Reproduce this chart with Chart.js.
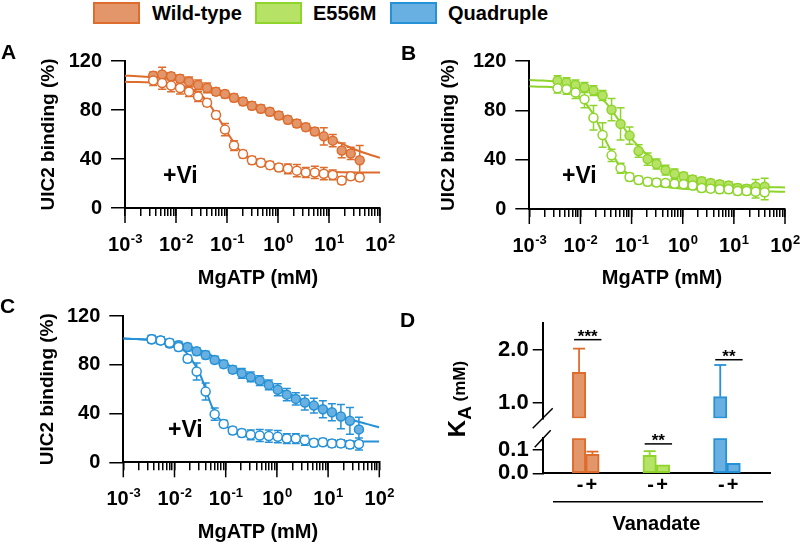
<!DOCTYPE html>
<html>
<head>
<meta charset="utf-8">
<title>UIC2 binding vs MgATP</title>
<script src="https://cdn.jsdelivr.net/npm/chart.js@4.4.1/dist/chart.umd.min.js"></script>
<style>
  html, body { margin: 0; padding: 0; background: #fff; }
  #fig { position: relative; width: 800px; height: 547px; overflow: hidden; background: #fff;
         font-family: "Liberation Sans", Arial, Helvetica, sans-serif; font-weight: bold; color: #000; }
  #fig canvas { position: absolute; }
  .txt { position: absolute; white-space: nowrap; line-height: 1; }
  .ctr { transform: translate(-50%, -50%); }
  .swatch { position: absolute; box-sizing: border-box; border: 2px solid; width: 47px; height: 22px; top: 2px; }
</style>
</head>
<body>
<div id="fig">
  <div class="swatch" id="sw0" style="left:93px"></div>
  <div class="txt" style="left:152px;top:3px;font-size:20px">Wild-type</div>
  <div class="swatch" id="sw1" style="left:255px"></div>
  <div class="txt" style="left:313px;top:3px;font-size:20px">E556M</div>
  <div class="swatch" id="sw2" style="left:390px"></div>
  <div class="txt" style="left:448px;top:3px;font-size:20px">Quadruple</div>

  <canvas id="cA" width="400" height="255" style="left:0;top:40px"></canvas>
  <canvas id="cB" width="400" height="255" style="left:400px;top:40px"></canvas>
  <canvas id="cC" width="400" height="252" style="left:0;top:295px"></canvas>
  <canvas id="cD" width="400" height="247" style="left:400px;top:300px"></canvas>

  <div class="txt" style="left:1px;top:41px;font-size:21px">A</div>
  <div class="txt" style="left:401px;top:42px;font-size:21px">B</div>
  <div class="txt" style="left:0px;top:295px;font-size:21px">C</div>
  <div class="txt" style="left:400px;top:309px;font-size:21px">D</div>

  <div class="txt" style="left:163px;top:164px;font-size:23px">+Vi</div>
  <div class="txt" style="left:562px;top:164px;font-size:23px">+Vi</div>
  <div class="txt" style="left:168px;top:418px;font-size:23px">+Vi</div>

  <div class="txt ctr" style="left:258px;top:277px;font-size:20px">MgATP (mM)</div>
  <div class="txt ctr" style="left:662px;top:277px;font-size:20px">MgATP (mM)</div>
  <div class="txt ctr" style="left:258px;top:531px;font-size:20px">MgATP (mM)</div>

  <div class="txt" style="left:457px;top:399px;transform:translate(-50%,-50%) rotate(-90deg)"><span style="font-size:24px">K</span><span style="font-size:19px;position:relative;top:6px">A</span><span style="font-size:17px"> (mM)</span></div>
</div>

<script>
// ---------------- data ----------------
const seriesNames = ['Wild-type', 'E556M', 'Quadruple'];
const lineColors = ['rgb(222,108,45)', 'rgb(142,212,42)', 'rgb(38,145,214)'];
const fillColors = ['rgb(226,150,106)', 'rgb(182,226,102)', 'rgb(104,176,226)'];

// MgATP concentrations (mM) of the titration points
const concentrations = [0.00357, 0.00535, 0.00802, 0.0120, 0.0180, 0.0271, 0.0406, 0.0609, 0.0913, 0.137, 0.206, 0.308,
                        0.462, 0.694, 1.04, 1.56, 2.34, 3.51, 5.27, 7.90, 11.85, 17.78, 26.67, 40];
// x positions where the fitted curves were read
const fitX = [0.001, 0.00178, 0.00316, 0.00562, 0.01, 0.0178, 0.0316, 0.0562, 0.1, 0.178, 0.316, 0.562,
              1, 1.78, 3.16, 5.62, 10, 17.8, 31.6, 56.2, 100];
const xTickExponents = [-3, -2, -1, 0, 1, 2];
const bindingTicks = [0, 40, 80, 120];

// Panel A: wild-type
const wtNoVi    = [108, 109, 107.5, 105.5, 103, 100.5, 98, 95, 93, 90, 87, 83.5, 81, 78.5, 75.5, 72, 69, 66, 62.5, 58.5, 55, 47, 44.5, 39];
const wtNoViErr = [3, 6, 3, 3, 4, 4, 4, 3, 3, 3, 3, 3, 3, 3, 3, 3, 3, 3, 3, 7, 5, 6, 5, 12];
const wtVi      = [104, 102, 100, 98, 95, 91, 86, 76, 64, 51, 44, 39, 37, 35, 33, 32, 30.5, 29, 29, 28, 27, 22.5, 26, 25];
const wtViErr   = [4, 5, 5, 5, 4, 4, 3, 3, 5, 4, 3, 3, 3, 3, 3, 4, 5, 4, 5, 5, 4, 3, 3, 3];
const wtNoViFit = [108, 107.6, 107, 106, 104.5, 102.5, 100, 96.8, 93, 89, 85, 80.5, 76, 71.5, 67, 62, 57, 52.5, 48, 44.3, 41];
const wtViFit   = [103, 102.8, 102.5, 102, 100.8, 98, 92, 79, 62, 47, 39.5, 35.5, 33, 31.5, 30.5, 30, 29.5, 29.2, 29, 29, 29];

// Panel B: E556M
const e556NoVi    = [104, 102.5, 100.5, 98.5, 96, 92, 80.5, 69, 59.5, 47, 40.5, 36.5, 31.5, 28.5, 26.5, 24, 22.5, 21, 20, 19, 17, 16.5, 18, 18];
const e556NoViErr = [4, 4, 4, 4, 4, 4, 9, 13, 7, 5, 5, 4, 4, 4, 3, 3, 3, 3, 3, 3, 3, 3, 6, 7];
const e556Vi      = [98, 97, 94.5, 89, 74, 60, 43.5, 33, 26, 23.5, 22, 21.5, 21, 20.5, 20, 19, 17, 16.5, 16, 16, 14.5, 14.5, 14, 13.5];
const e556ViErr   = [4, 4, 5, 7, 10, 10, 5, 4, 3, 3, 3, 3, 3, 3, 3, 3, 3, 3, 3, 3, 3, 3, 5, 6];
const e556NoViFit = [104.5, 104.2, 103.5, 102, 99.5, 95, 86, 72, 57, 46, 37, 30.5, 26, 23.3, 21.5, 20, 19, 18.4, 18, 17.7, 17.5];
const e556ViFit   = [99.5, 99.2, 98.5, 96, 90, 77, 55, 36, 26, 21.5, 19, 17.5, 16.5, 15.8, 15.2, 14.8, 14.5, 14.3, 14.2, 14.1, 14];

// Panel C: Quadruple
const quadNoVi    = [101, 100, 97.5, 96, 94.5, 91, 88, 84, 80.5, 76, 73, 70, 67, 63.5, 59.5, 55.5, 52, 49, 46.5, 43.5, 41, 37.5, 34, 27];
const quadNoViErr = [3, 3, 3, 3, 3, 3, 3, 3, 3, 3, 4, 4, 4, 4, 5, 5, 5, 6, 6, 7, 7, 10, 11, 10];
const quadVi      = [101, 100, 98, 94.5, 85, 74.5, 58, 39.5, 31.5, 26, 24, 22.5, 22, 21.5, 21, 19.5, 19.5, 18, 16, 16.5, 15.5, 15.5, 14.5, 15];
const quadViErr   = [3, 3, 3, 3, 3, 7, 7, 5, 3, 3, 3, 4, 5, 5, 5, 4, 4, 4, 3, 3, 3, 3, 3, 5];
const quadNoViFit = [101.5, 101.2, 100.5, 99.5, 98, 95.5, 92, 87, 81, 76, 71, 66, 61, 56, 51, 46.5, 42, 38, 34.5, 31.5, 28.7];
const quadViFit   = [101.5, 101.2, 100.5, 99.3, 97, 89, 72, 44, 30, 25, 22.5, 21, 20, 19.2, 18.5, 18, 17.5, 17.3, 17.1, 17, 17];

// Panel D: K_A (mM), without (-) and with (+) vanadate
const kaGroupPositions = [0, 1, 2];
const kaMinusVi    = [1.57, 0.077, 1.11];
const kaMinusViErr = [0.45, 0.018, 0.60];
const kaPlusVi     = [0.081, 0.036, 0.043];
const kaPlusViErr  = [0.012, 0, 0];
const vanadateLabels = ['-', '+'];
const sigMarks  = ['***', '**', '**'];
const sigLevels = [2.19, 0.126, 1.81];
const kaLowTicks  = [0.0, 0.1];
const kaHighTicks = [1.0, 2.0];
const LOW_MAX = 0.15, HIGH_MIN = 0.7, HIGH_MAX = 2.5;

// ---------------- helpers ----------------
const FONT = '"Liberation Sans", Arial, Helvetica, sans-serif';
Chart.defaults.font.family = FONT;
seriesNames.forEach((n, i) => {
  const sw = document.getElementById('sw' + i);
  sw.style.background = fillColors[i];
  sw.style.borderColor = lineColors[i];
});

const errorBarPlugin = {
  id: 'errorBars',
  beforeDatasetsDraw(chart) {
    const ctx = chart.ctx;
    chart.data.datasets.forEach((ds, di) => {
      if (!ds.errors) return;
      const meta = chart.getDatasetMeta(di);
      const ys = chart.scales[meta.yAxisID];
      ctx.save();
      ctx.strokeStyle = ds.errorColor;
      ctx.lineWidth = 1.5;
      meta.data.forEach((pt, i) => {
        const e = ds.errors[i];
        if (!e) return;
        const v = ds.data[i].y;
        const x = pt.x, yT = ys.getPixelForValue(v + e), yB = ys.getPixelForValue(v - e);
        ctx.beginPath();
        ctx.moveTo(x, yT); ctx.lineTo(x, yB);
        ctx.moveTo(x - 4, yT); ctx.lineTo(x + 4, yT);
        ctx.moveTo(x - 4, yB); ctx.lineTo(x + 4, yB);
        ctx.stroke();
      });
      ctx.restore();
    });
  }
};

const logAxisPlugin = {
  id: 'logAxis',
  afterDraw(chart) {
    const xs = chart.scales.x;
    const ctx = chart.ctx;
    ctx.save();
    ctx.strokeStyle = '#000';
    ctx.fillStyle = '#000';
    ctx.lineWidth = 1.5;
    ctx.textAlign = 'left';
    ctx.textBaseline = 'alphabetic';
    xTickExponents.forEach(e => {
      const px = xs.getPixelForValue(Math.pow(10, e));
      ctx.beginPath();
      ctx.moveTo(px, xs.top); ctx.lineTo(px, xs.top + 15);
      ctx.stroke();
      const base = '10', ex = String(e);
      ctx.font = 'bold 20px ' + FONT;
      const wb = ctx.measureText(base).width;
      ctx.font = 'bold 13px ' + FONT;
      const we = ctx.measureText(ex).width;
      const left = px - (wb + we) / 2;
      const baseY = xs.top + 43;
      ctx.font = 'bold 20px ' + FONT;
      ctx.fillText(base, left, baseY);
      ctx.font = 'bold 13px ' + FONT;
      ctx.fillText(ex, left + wb + 0.5, baseY - 8);
    });
    ctx.restore();
  }
};

function minorLogTicks() {
  const out = [];
  xTickExponents.forEach(e => {
    for (let m = 1; m <= 9; m++) {
      const v = m * Math.pow(10, e);
      if (v <= 100.0001) out.push({value: v});
    }
  });
  return out;
}

function curvePanel(id, s, noVi, noViErr, vi, viErr, noViFit, viFit, g) {
  const color = lineColors[s], fill = fillColors[s];
  const pts = ys => concentrations.map((x, i) => ({x: x, y: ys[i]}));
  const fit = ys => fitX.map((x, i) => ({x: x, y: ys[i]}));
  return new Chart(document.getElementById(id), {
    type: 'line',
    data: {
      datasets: [
        { label: seriesNames[s] + ' +Vi', data: pts(vi), errors: viErr, errorColor: color, showLine: false,
          pointRadius: 4.5, pointBorderWidth: 1.5, pointBackgroundColor: '#ffffff', pointBorderColor: color, order: 1 },
        { label: seriesNames[s], data: pts(noVi), errors: noViErr, errorColor: color, showLine: false,
          pointRadius: 4.5, pointBorderWidth: 1.5, pointBackgroundColor: fill, pointBorderColor: color, order: 2 },
        { label: 'fit', data: fit(noViFit), borderColor: color, borderWidth: 2, pointRadius: 0,
          cubicInterpolationMode: 'monotone', order: 3 },
        { label: 'fit +Vi', data: fit(viFit), borderColor: color, borderWidth: 2, pointRadius: 0,
          cubicInterpolationMode: 'monotone', order: 3 }
      ]
    },
    options: {
      responsive: false, animation: false, devicePixelRatio: 1,
      layout: { padding: { left: 0, top: g.top, right: g.right, bottom: 0 } },
      plugins: { legend: { display: false }, tooltip: { enabled: false } },
      scales: {
        x: {
          type: 'logarithmic', min: 0.001, max: 100,
          afterBuildTicks: sc => { sc.ticks = minorLogTicks(); },
          afterFit: sc => { sc.height = g.xH; },
          ticks: { display: false, autoSkip: false },
          grid: { drawOnChartArea: false, tickLength: 8, color: '#000', lineWidth: 1.5 },
          border: { color: '#000', width: 2 }
        },
        y: {
          min: 0, max: 120,
          afterBuildTicks: sc => { sc.ticks = bindingTicks.map(v => ({value: v})); },
          afterFit: sc => { sc.width = g.yW; },
          ticks: { autoSkip: false, color: '#000', padding: 9, font: { family: FONT, size: 20, weight: 'bold' } },
          grid: { drawOnChartArea: false, tickLength: 14, color: '#000', lineWidth: 1.5 },
          border: { color: '#000', width: 2 },
          title: { display: true, text: 'UIC2 binding (%)', color: '#000',
                   font: { family: FONT, size: 19, weight: 'bold' }, padding: { top: g.tp, bottom: 0 } }
        }
      }
    },
    plugins: [errorBarPlugin, logAxisPlugin]
  });
}

curvePanel('cA', 0, wtNoVi, wtNoViErr, wtVi, wtViErr, wtNoViFit, wtViFit, {top: 19, right: 20, xH: 87, yW: 125, tp: 37.6});
curvePanel('cB', 1, e556NoVi, e556NoViErr, e556Vi, e556ViErr, e556NoViFit, e556ViFit, {top: 20, right: 15, xH: 86, yW: 129.3, tp: 37.6});
curvePanel('cC', 2, quadNoVi, quadNoViErr, quadVi, quadViErr, quadNoViFit, quadViFit, {top: 18.3, right: 20.7, xH: 84.7, yW: 123.3, tp: 36});

// ---------------- Panel D ----------------
const kaPlugin = {
  id: 'kaDecor',
  afterDraw(chart) {
    const ctx = chart.ctx, hi = chart.scales.yHigh, lo = chart.scales.yLow, area = chart.chartArea;
    const mMeta = chart.getDatasetMeta(0), pMeta = chart.getDatasetMeta(1);
    const pix = v => (v > LOW_MAX ? hi.getPixelForValue(v) : lo.getPixelForValue(v));
    const seg = (x1, y1, x2, y2) => { ctx.beginPath(); ctx.moveTo(x1, y1); ctx.lineTo(x2, y2); ctx.stroke(); };
    ctx.save();
    ctx.lineWidth = 1.8;
    // error bars (upper only)
    kaGroupPositions.forEach((g, i) => {
      [[mMeta, kaMinusVi, kaMinusViErr], [pMeta, kaPlusVi, kaPlusViErr]].forEach(([meta, vals, errs]) => {
        const e = errs[i];
        if (!e) return;
        const x = meta.data[i].x, y0 = pix(vals[i]), y1 = pix(vals[i] + e);
        ctx.strokeStyle = lineColors[i];
        seg(x, y0, x, y1);
        seg(x - 6, y1, x + 6, y1);
      });
    });
    ctx.strokeStyle = '#000';
    ctx.fillStyle = '#000';
    ctx.lineWidth = 1.5;
    // axis break marks
    const ax = area.left;
    seg(ax - 10, hi.bottom + 10, ax + 10, hi.bottom - 10);
    seg(ax - 8, lo.top + 9, ax + 8, lo.top - 8);
    // significance and -/+ labels
    ctx.textAlign = 'center';
    ctx.textBaseline = 'alphabetic';
    kaGroupPositions.forEach((g, i) => {
      const x1 = mMeta.data[i].x - 5, x2 = pMeta.data[i].x + 9, y = pix(sigLevels[i]);
      seg(x1, y, x2, y);
      ctx.font = 'bold 17px ' + FONT;
      ctx.fillText(sigMarks[i], (x1 + x2) / 2, y + 2);
      ctx.font = 'bold 20px ' + FONT;
      ctx.fillText(vanadateLabels[0], mMeta.data[i].x + 1, area.bottom + 18);
      ctx.fillText(vanadateLabels[1], pMeta.data[i].x - 1, area.bottom + 18);
    });
    // group line + label
    seg(area.left + 10.3, area.bottom + 28.4, area.right - 7, area.bottom + 28.4);
    ctx.font = 'bold 20px ' + FONT;
    ctx.fillText('Vanadate', (area.left + area.right) / 2, area.bottom + 57);
    ctx.restore();
  }
};

const yTickFont = { family: FONT, size: 22, weight: 'bold' };
const upperIdx = kaGroupPositions.filter(i => kaMinusVi[i] > LOW_MAX);
new Chart(document.getElementById('cD'), {
  type: 'bar',
  data: {
    datasets: [
      { label: '- vanadate', yAxisID: 'yLow', stack: 'm',
        data: kaGroupPositions.map((x, i) => ({x: x, y: [0, Math.min(kaMinusVi[i], LOW_MAX)]})),
        backgroundColor: fillColors, borderColor: lineColors, borderWidth: 2, borderSkipped: false },
      { label: '+ vanadate', yAxisID: 'yLow', stack: 'p',
        data: kaGroupPositions.map((x, i) => ({x: x, y: [0, Math.min(kaPlusVi[i], LOW_MAX)]})),
        backgroundColor: fillColors, borderColor: lineColors, borderWidth: 2, borderSkipped: false },
      { label: '- vanadate (upper)', yAxisID: 'yHigh', stack: 'm',
        data: upperIdx.map(i => ({x: kaGroupPositions[i], y: [HIGH_MIN, kaMinusVi[i]]})),
        backgroundColor: upperIdx.map(i => fillColors[i]),
        borderColor: upperIdx.map(i => lineColors[i]),
        borderWidth: 2, borderSkipped: false }
    ]
  },
  options: {
    responsive: false, animation: false, devicePixelRatio: 1,
    barThickness: 13.4, barPercentage: 1, categoryPercentage: 1,
    layout: { padding: { left: 0, top: 23.3, right: 30, bottom: 0 } },
    plugins: { legend: { display: false }, tooltip: { enabled: false } },
    scales: {
      x: {
        type: 'linear', min: -0.61, max: 2.61, offset: false,
        afterBuildTicks: sc => { sc.ticks = kaGroupPositions.map(v => ({value: v})); },
        afterFit: sc => { sc.height = 73.7; },
        ticks: { display: false },
        grid: { display: false, offset: false },
        border: { color: '#000', width: 2 }
      },
      yHigh: {
        type: 'linear', position: 'left', stack: 'ka', stackWeight: 95, weight: 3, stacked: false,
        min: HIGH_MIN, max: HIGH_MAX,
        afterBuildTicks: sc => { sc.ticks = kaHighTicks.map(v => ({value: v})); },
        afterFit: sc => { sc.width = 142.7; },
        ticks: { autoSkip: false, color: '#000', padding: 4, font: yTickFont, callback: v => Number(v).toFixed(1) },
        grid: { drawOnChartArea: false, tickLength: 10, color: '#000', lineWidth: 1.5 },
        border: { color: '#000', width: 2 }
      },
      yGap: {
        type: 'linear', position: 'left', stack: 'ka', stackWeight: 20, weight: 2, stacked: false,
        afterFit: sc => { sc.width = 142.7; },
        ticks: { display: false }, grid: { display: false }, border: { display: false }
      },
      yLow: {
        type: 'linear', position: 'left', stack: 'ka', stackWeight: 35, weight: 1, stacked: false,
        min: 0, max: LOW_MAX,
        afterBuildTicks: sc => { sc.ticks = kaLowTicks.map(v => ({value: v})); },
        afterFit: sc => { sc.width = 142.7; },
        ticks: { autoSkip: false, color: '#000', padding: 4, font: yTickFont, callback: v => Number(v).toFixed(1) },
        grid: { drawOnChartArea: false, tickLength: 10, color: '#000', lineWidth: 1.5 },
        border: { color: '#000', width: 2 }
      }
    }
  },
  plugins: [kaPlugin]
});
</script>
</body>
</html>
